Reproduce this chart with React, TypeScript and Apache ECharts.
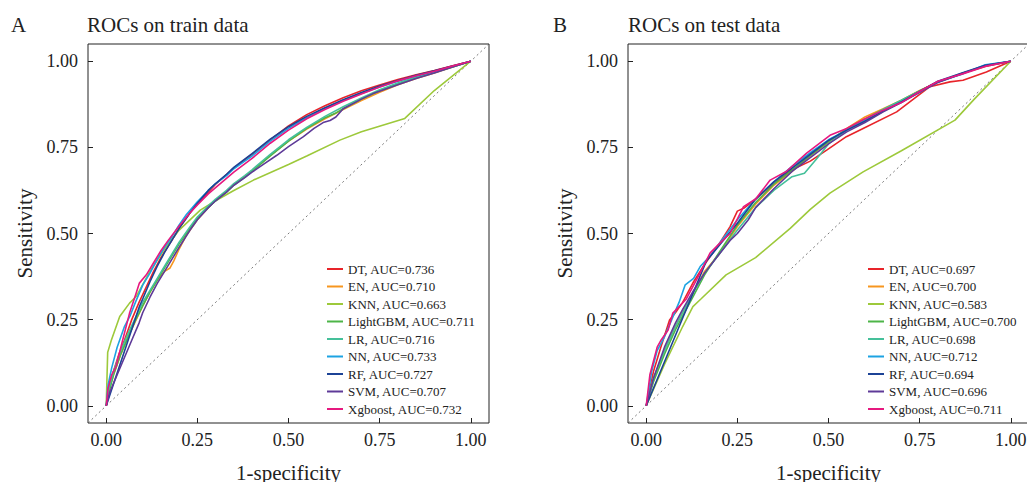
import React, { useEffect, useRef } from "react";
import * as echarts from "echarts";

const models = ["DT", "EN", "KNN", "LightGBM", "LR", "NN", "RF", "SVM", "Xgboost"];
const colors = ["#E8242A", "#F7961F", "#9DC93B", "#4DB548", "#45C09A", "#1DA3E2", "#1C4396", "#5E3A98", "#E6197F"];
const aucTrain = ["0.736", "0.710", "0.663", "0.711", "0.716", "0.733", "0.727", "0.707", "0.732"];
const aucTest = ["0.697", "0.700", "0.583", "0.700", "0.698", "0.712", "0.694", "0.696", "0.711"];
const tickValues = [0, 0.25, 0.5, 0.75, 1];
const axisRange = [-0.05, 1.05];

// ---- train ROC curves (1-specificity, sensitivity)
const trainDT = [[0,0],[0.008,0.05],[0.02,0.1],[0.035,0.15],[0.05,0.19],[0.07,0.25],[0.09,0.3],[0.11,0.345],[0.13,0.39],[0.15,0.43],[0.18,0.48],[0.2,0.515],[0.23,0.56],[0.25,0.585],[0.28,0.62],[0.3,0.643],[0.35,0.69],[0.4,0.73],[0.45,0.772],[0.5,0.812],[0.55,0.845],[0.6,0.871],[0.65,0.894],[0.7,0.914],[0.75,0.931],[0.8,0.947],[0.85,0.961],[0.9,0.973],[0.95,0.987],[1,1]];
const trainEN = [[0,0],[0.005,0.035],[0.02,0.09],[0.04,0.15],[0.06,0.2],[0.08,0.245],[0.1,0.29],[0.12,0.33],[0.14,0.365],[0.16,0.39],[0.175,0.4],[0.185,0.42],[0.2,0.455],[0.22,0.495],[0.25,0.54],[0.28,0.575],[0.3,0.597],[0.33,0.622],[0.35,0.642],[0.38,0.665],[0.4,0.682],[0.45,0.726],[0.5,0.768],[0.55,0.803],[0.6,0.833],[0.65,0.86],[0.7,0.886],[0.75,0.91],[0.8,0.932],[0.85,0.95],[0.9,0.966],[0.95,0.983],[1,1]];
const trainKNN = [[0,0],[0.004,0.155],[0.014,0.19],[0.037,0.259],[0.064,0.298],[0.082,0.317],[0.12,0.39],[0.16,0.455],[0.2,0.51],[0.258,0.568],[0.3,0.595],[0.35,0.625],[0.404,0.655],[0.5,0.7],[0.55,0.725],[0.641,0.771],[0.7,0.795],[0.819,0.834],[0.9,0.915],[1,1]];
const trainLightGBM = [[0,0],[0.005,0.03],[0.02,0.09],[0.04,0.15],[0.06,0.2],[0.08,0.248],[0.1,0.29],[0.12,0.33],[0.14,0.365],[0.16,0.4],[0.18,0.435],[0.2,0.47],[0.23,0.515],[0.25,0.545],[0.28,0.575],[0.3,0.595],[0.33,0.62],[0.35,0.64],[0.38,0.663],[0.4,0.68],[0.45,0.725],[0.5,0.768],[0.55,0.805],[0.6,0.836],[0.63,0.85],[0.65,0.862],[0.7,0.89],[0.75,0.914],[0.8,0.935],[0.85,0.952],[0.9,0.967],[0.95,0.983],[1,1]];
const trainLR = [[0,0],[0.005,0.04],[0.02,0.1],[0.04,0.16],[0.06,0.21],[0.08,0.255],[0.1,0.3],[0.12,0.335],[0.14,0.37],[0.16,0.405],[0.18,0.44],[0.2,0.475],[0.23,0.52],[0.25,0.548],[0.28,0.58],[0.3,0.6],[0.33,0.625],[0.35,0.645],[0.38,0.668],[0.4,0.685],[0.45,0.73],[0.5,0.772],[0.55,0.808],[0.6,0.84],[0.65,0.868],[0.7,0.893],[0.75,0.917],[0.8,0.937],[0.85,0.954],[0.9,0.968],[0.95,0.984],[1,1]];
const trainNN = [[0,0],[0.005,0.06],[0.015,0.11],[0.03,0.17],[0.05,0.23],[0.065,0.26],[0.08,0.3],[0.1,0.35],[0.12,0.385],[0.14,0.425],[0.16,0.46],[0.18,0.49],[0.2,0.525],[0.22,0.555],[0.25,0.592],[0.28,0.625],[0.3,0.645],[0.33,0.668],[0.35,0.688],[0.38,0.71],[0.4,0.725],[0.45,0.768],[0.5,0.805],[0.55,0.836],[0.6,0.862],[0.65,0.886],[0.7,0.906],[0.75,0.925],[0.8,0.942],[0.85,0.957],[0.9,0.97],[0.95,0.985],[1,1]];
const trainRF = [[0,0],[0.091,0.288],[0.1,0.31],[0.12,0.36],[0.14,0.405],[0.16,0.445],[0.18,0.48],[0.2,0.515],[0.23,0.56],[0.25,0.588],[0.28,0.625],[0.3,0.645],[0.33,0.672],[0.35,0.692],[0.38,0.716],[0.4,0.732],[0.45,0.774],[0.5,0.81],[0.55,0.84],[0.6,0.865],[0.65,0.888],[0.7,0.909],[0.75,0.928],[0.8,0.944],[0.85,0.959],[0.9,0.972],[0.95,0.986],[1,1]];
const trainSVM = [[0,0],[0.01,0.04],[0.03,0.09],[0.05,0.14],[0.07,0.19],[0.09,0.24],[0.1,0.27],[0.12,0.315],[0.14,0.355],[0.16,0.39],[0.18,0.425],[0.2,0.46],[0.23,0.51],[0.25,0.54],[0.28,0.575],[0.3,0.595],[0.33,0.62],[0.35,0.64],[0.38,0.662],[0.4,0.678],[0.43,0.7],[0.468,0.727],[0.5,0.752],[0.541,0.781],[0.57,0.805],[0.595,0.822],[0.614,0.828],[0.63,0.838],[0.65,0.862],[0.7,0.89],[0.732,0.906],[0.8,0.932],[0.85,0.95],[0.9,0.966],[0.95,0.983],[1,1]];
const trainXgboost = [[0,0],[0.005,0.05],[0.015,0.09],[0.027,0.114],[0.045,0.19],[0.064,0.269],[0.08,0.32],[0.091,0.356],[0.11,0.38],[0.13,0.415],[0.15,0.45],[0.17,0.48],[0.2,0.522],[0.23,0.56],[0.25,0.583],[0.28,0.615],[0.3,0.633],[0.35,0.678],[0.4,0.718],[0.45,0.762],[0.5,0.8],[0.55,0.833],[0.6,0.86],[0.65,0.884],[0.7,0.905],[0.75,0.925],[0.8,0.943],[0.85,0.958],[0.9,0.971],[0.95,0.986],[1,1]];

// ---- test ROC curves
const testDT = [[0,0],[0.02,0.1],[0.04,0.17],[0.064,0.249],[0.08,0.27],[0.1,0.3],[0.13,0.36],[0.16,0.41],[0.2,0.47],[0.23,0.52],[0.25,0.565],[0.27,0.575],[0.3,0.6],[0.35,0.645],[0.4,0.685],[0.45,0.71],[0.495,0.742],[0.549,0.781],[0.595,0.805],[0.687,0.853],[0.778,0.926],[0.833,0.94],[0.869,0.945],[0.933,0.969],[1,1]];
const testEN = [[0,0],[0.02,0.08],[0.05,0.16],[0.08,0.23],[0.1,0.27],[0.13,0.33],[0.16,0.39],[0.2,0.44],[0.25,0.52],[0.3,0.585],[0.35,0.64],[0.4,0.68],[0.45,0.725],[0.5,0.765],[0.55,0.805],[0.6,0.838],[0.65,0.862],[0.7,0.887],[0.75,0.915],[0.8,0.94],[0.87,0.966],[0.93,0.985],[1,1]];
const testKNN = [[0,0],[0.05,0.12],[0.1,0.23],[0.128,0.288],[0.15,0.31],[0.219,0.38],[0.3,0.43],[0.395,0.515],[0.45,0.57],[0.504,0.617],[0.595,0.679],[0.7,0.74],[0.847,0.829],[0.9,0.89],[1,1]];
const testLightGBM = [[0,0],[0.02,0.07],[0.05,0.15],[0.08,0.22],[0.1,0.26],[0.13,0.32],[0.16,0.38],[0.2,0.445],[0.25,0.525],[0.3,0.59],[0.35,0.643],[0.4,0.684],[0.45,0.727],[0.5,0.767],[0.55,0.803],[0.6,0.832],[0.65,0.86],[0.7,0.886],[0.75,0.914],[0.8,0.94],[0.87,0.966],[0.93,0.986],[1,1]];
const testLR = [[0,0],[0.02,0.08],[0.05,0.16],[0.08,0.23],[0.1,0.27],[0.13,0.33],[0.16,0.385],[0.2,0.44],[0.25,0.51],[0.3,0.575],[0.35,0.625],[0.4,0.665],[0.434,0.675],[0.47,0.72],[0.5,0.76],[0.55,0.8],[0.6,0.83],[0.65,0.86],[0.7,0.887],[0.75,0.914],[0.8,0.94],[0.87,0.966],[0.93,0.987],[1,1]];
const testNN = [[0,0],[0.015,0.1],[0.03,0.16],[0.05,0.2],[0.07,0.25],[0.09,0.3],[0.107,0.351],[0.13,0.37],[0.148,0.404],[0.18,0.44],[0.2,0.47],[0.25,0.54],[0.3,0.6],[0.35,0.65],[0.4,0.695],[0.45,0.735],[0.5,0.772],[0.55,0.8],[0.6,0.827],[0.65,0.857],[0.7,0.882],[0.75,0.91],[0.8,0.94],[0.87,0.964],[0.93,0.99],[1,1]];
const testRF = [[0,0],[0.165,0.42],[0.2,0.465],[0.25,0.53],[0.3,0.6],[0.35,0.65],[0.4,0.69],[0.45,0.73],[0.5,0.77],[0.55,0.8],[0.6,0.826],[0.65,0.855],[0.7,0.882],[0.75,0.912],[0.8,0.942],[0.87,0.967],[0.93,0.988],[1,1]];
const testSVM = [[0,0],[0.02,0.08],[0.05,0.17],[0.08,0.24],[0.1,0.28],[0.13,0.335],[0.16,0.385],[0.2,0.44],[0.23,0.48],[0.25,0.5],[0.28,0.54],[0.3,0.575],[0.35,0.63],[0.4,0.68],[0.45,0.72],[0.5,0.76],[0.55,0.795],[0.6,0.822],[0.65,0.853],[0.7,0.88],[0.75,0.91],[0.8,0.938],[0.87,0.965],[0.93,0.986],[1,1]];
const testXgboost = [[0,0],[0.01,0.09],[0.03,0.17],[0.041,0.191],[0.06,0.22],[0.073,0.269],[0.11,0.31],[0.14,0.37],[0.175,0.443],[0.2,0.47],[0.23,0.5],[0.267,0.578],[0.3,0.6],[0.34,0.655],[0.384,0.68],[0.44,0.733],[0.504,0.785],[0.55,0.805],[0.595,0.83],[0.65,0.858],[0.7,0.88],[0.75,0.912],[0.8,0.942],[0.87,0.964],[0.93,0.985],[1,1]];

const trainCurves = [trainDT, trainEN, trainKNN, trainLightGBM, trainLR, trainNN, trainRF, trainSVM, trainXgboost];
const testCurves = [testDT, testEN, testKNN, testLightGBM, testLR, testNN, testRF, testSVM, testXgboost];

const FONT = "'Liberation Serif', 'Times New Roman', serif";
const INK = "#222222";

function makeAxes(gridIndex: number, isX: boolean) {
  return {
    type: "value",
    gridIndex,
    min: axisRange[0],
    max: axisRange[1],
    name: isX ? "1-specificity" : "Sensitivity",
    nameLocation: "middle",
    nameGap: isX ? 39 : 53,
    nameTextStyle: { fontFamily: FONT, fontSize: 21, color: INK },
    axisLine: { show: false, onZero: false },
    splitLine: { show: false },
    axisTick: {
      show: true,
      inside: true,
      length: 5,
      customValues: tickValues,
      lineStyle: { color: INK, width: 1 },
    },
    axisLabel: {
      show: true,
      margin: isX ? 8 : 10,
      customValues: tickValues,
      fontFamily: FONT,
      fontSize: 18,
      color: INK,
      formatter: (v: number) => v.toFixed(2),
    },
  };
}

export default function App() {
  const ref = useRef<HTMLDivElement>(null);
  useEffect(() => {
    if (!ref.current) return;
    const chart = echarts.init(ref.current, undefined, { renderer: "svg" });
    const series: any[] = [];
    [0, 1].forEach((g) => {
      series.push({
        type: "line",
        name: "diag" + g,
        xAxisIndex: g,
        yAxisIndex: g,
        data: [[axisRange[0], axisRange[0]], [axisRange[1], axisRange[1]]],
        symbol: "none",
        silent: true,
        lineStyle: { color: "#555", width: 0.8, type: [2, 3] },
        z: 1,
      });
    });
    models.forEach((m, i) => {
      series.push({
        type: "line",
        name: `${m}, AUC=${aucTrain[i]}`,
        xAxisIndex: 0,
        yAxisIndex: 0,
        data: trainCurves[i],
        symbol: "none",
        lineStyle: { color: colors[i], width: 1.6 },
        itemStyle: { color: colors[i] },
        z: 2,
      });
      series.push({
        type: "line",
        name: `${m}, AUC=${aucTest[i]}`,
        xAxisIndex: 1,
        yAxisIndex: 1,
        data: testCurves[i],
        symbol: "none",
        lineStyle: { color: colors[i], width: 1.6 },
        itemStyle: { color: colors[i] },
        z: 2,
      });
    });
    const legendBase = {
      orient: "vertical",
      icon: "rect",
      itemWidth: 16,
      itemHeight: 2,
      itemGap: 3.5,
      padding: 0,
      selectedMode: false,
      textStyle: { fontFamily: FONT, fontSize: 13, lineHeight: 14, color: INK },
    };
    const titleStyle = { fontFamily: FONT, fontSize: 21, fontWeight: "normal", color: INK };
    chart.setOption({
      animation: false,
      backgroundColor: "#ffffff",
      title: [
        { text: "A", left: 11, top: 14, padding: 0, textStyle: titleStyle },
        { text: "ROCs on train data", left: 87, top: 14, padding: 0, textStyle: titleStyle },
        { text: "B", left: 553, top: 14, padding: 0, textStyle: titleStyle },
        { text: "ROCs on test data", left: 628, top: 14, padding: 0, textStyle: titleStyle },
      ],
      grid: [
        { left: 88, top: 44, width: 401, height: 379, show: true, borderColor: INK, borderWidth: 1, backgroundColor: "transparent", outerBoundsMode: "none", containLabel: false },
        { left: 628, top: 44, width: 401, height: 379, show: true, borderColor: INK, borderWidth: 1, backgroundColor: "transparent", outerBoundsMode: "none", containLabel: false },
      ],
      xAxis: [makeAxes(0, true), makeAxes(1, true)],
      yAxis: [makeAxes(0, false), makeAxes(1, false)],
      legend: [
        { ...legendBase, left: 327, top: 262, data: models.map((m, i) => `${m}, AUC=${aucTrain[i]}`) },
        { ...legendBase, left: 868, top: 262, data: models.map((m, i) => `${m}, AUC=${aucTest[i]}`) },
      ],
      series,
    });
    return () => chart.dispose();
  }, []);
  return (
    <div
      ref={ref}
      style={{ position: "absolute", left: 0, top: 0, width: 1027, height: 482, background: "#fff" }}
    />
  );
}
